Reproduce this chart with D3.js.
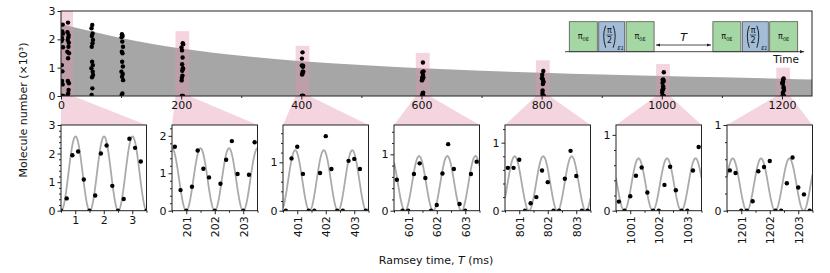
<!DOCTYPE html>
<html>
<head>
<meta charset="utf-8">
<title>Ramsey fringes vs time</title>
<script src="https://d3js.org/d3.v7.min.js"></script>
<style>
  body { margin: 0; background: #fff; }
  text { font-family: "DejaVu Sans", sans-serif; fill: #111; }
</style>
</head>
<body>
<svg id="chart"></svg>
<script>
// --- data ---
var groupBase = [0, 200, 400, 600, 800, 1000, 1200];
var panelYMax = [3, 2.29, 1.77, 1.52, 1.26, 1.13, 1.0];
var firstOffsets = [0.5, 0.7, 0.9, 1.1, 1.3, 1.5, 1.7, 1.9, 2.1, 2.3, 2.5, 2.7, 2.9, 3.1, 3.3, 3.5];
var offsets = [0.6, 0.8, 1.0, 1.2, 1.4, 1.6, 1.8, 2.0, 2.2, 2.4, 2.6, 2.8, 3.0, 3.2, 3.4];

var n0    = [0, 0.43, 1.94, 2.07, 1.09, 0, 0.53, 2.0, 2.28, 0.87, 0, 0.41, 2.52, 2.2, 1.72, 0];
var n200  = [1.71, 0.55, 0, 0.64, 1.61, 1.12, 0.89, 0, 0.72, 1.36, 1.86, 0.98, 0, 0.96, 1.83];
var n400  = [0, 1.08, 1.32, 0.76, 0, 0, 0.78, 1.54, 0.86, 0, 0, 1.03, 1.07, 0.86, 0];
var n600  = [0.55, 0, 0, 0.65, 0.84, 0.58, 0, 0.10, 0.66, 1.18, 0.74, 0.12, 0, 0.65, 0.87];
var n800  = [0.63, 0.63, 0.75, 0, 0.11, 0.20, 0.59, 0.42, 0, 0, 0.47, 0.88, 0.51, 0, 0];
var n1000 = [0.12, 0, 0.19, 0.46, 0.57, 0.24, 0, 0, 0.34, 0.58, 0.27, 0, 0, 0.53, 0.84];
var n1200 = [0.47, 0.44, 0, 0, 0.11, 0.46, 0.51, 0.58, 0, 0, 0.32, 0.62, 0.27, 0.19, 0];
var panelN = [n0, n200, n400, n600, n800, n1000, n1200];

// extra groups only shown in the overview panel
var extraBase = [10, 50, 100];
var n10  = [1.56, 2.25, 0.04, 1.98, 0.53, 2.59, 1.33, 0.09, 2.07, 1.74, 0.21, 2.15, 1.88, 0.45, 1.51];
var n50  = [0.98, 2.39, 0.04, 1.74, 2.12, 0.66, 1.21, 2.51, 0.27, 1.86, 2.21, 0.86, 1.09, 1.98, 0.74];
var n100 = [0.86, 2.07, 0.04, 1.56, 2.18, 0.68, 1.21, 1.92, 0.09, 1.51, 2.12, 0.78, 1.04, 1.74, 0.56];
var extraN = [n10, n50, n100];

// fitted fringe parameters (amplitude, time of a peak, period)
var fitAmp    = [2.6, 1.67, 1.25, 0.97, 0.80, 0.69, 0.61];
var fitPeak   = [1.01, 201.5, 401.93, 601.38, 800.84, 1001.29, 1200.7];
var fitPeriod = [1.0, 1.0, 1.0, 0.99, 1.0, 1.0, 0.995];

// decay envelope (grey band)
var envT = [0, 100, 200, 300, 400, 500, 600, 700, 800, 900, 1000, 1100, 1200, 1250];
var envN = [2.54, 2.05, 1.68, 1.42, 1.23, 1.09, 0.98, 0.89, 0.82, 0.76, 0.71, 0.66, 0.61, 0.58];

var topTicks = [0, 200, 400, 600, 800, 1000, 1200];
var topMinor = [100, 300, 500, 700, 900, 1100];

// --- layout ---
var W = 830, H = 273;
var svg = d3.select("#chart").attr("width", W).attr("height", H);
var pink = "rgb(228,150,175)";
var defs = svg.append("defs");

var x = d3.scaleLinear().domain([0, 1250]).range([61, 812]);
var y = d3.scaleLinear().domain([0, 3]).range([96, 11]);

var pTop = 125, pBot = 210.7, pW = 85.5;
function panelLeft(i) { return 61 + i * 111; }

defs.append("clipPath").attr("id", "clipTop")
  .append("rect").attr("x", 61).attr("y", 11).attr("width", 751).attr("height", 85);
defs.append("marker").attr("id", "arrE").attr("viewBox", "0 0 10 10").attr("refX", 10).attr("refY", 5)
  .attr("markerWidth", 5).attr("markerHeight", 5).attr("orient", "auto")
  .append("path").attr("d", "M0,1L10,5L0,9Z").attr("fill", "#222");
defs.append("marker").attr("id", "arrS").attr("viewBox", "0 0 10 10").attr("refX", 0).attr("refY", 5)
  .attr("markerWidth", 5).attr("markerHeight", 5).attr("orient", "auto")
  .append("path").attr("d", "M10,1L0,5L10,9Z").attr("fill", "#222");

function zoomLo(i) { return i == 0 ? 0 : groupBase[i] + 2 - 11.5; }
function zoomHi(i) { return i == 0 ? 20 : groupBase[i] + 2 + 11.5; }

// pink connectors
groupBase.forEach(function(b, i) {
  var px = panelLeft(i);
  svg.append("path")
    .attr("d", "M" + [x(zoomLo(i)), 96] + "L" + [x(zoomHi(i)), 96] + "L" + [px + pW, pTop] + "L" + [px, pTop] + "Z")
    .attr("fill", pink).attr("opacity", 0.4);
});

// overview panel
var overview = svg.append("g");
var env = envT.map(function(t, i) { return {t: t, n: envN[i]}; });
overview.append("path").datum(env)
  .attr("fill", "#a6a6a6")
  .attr("d", d3.area().x(d => x(d.t)).y0(y(0)).y1(d => y(d.n)).curve(d3.curveMonotoneX));

groupBase.forEach(function(b, i) {
  overview.append("rect")
    .attr("x", x(zoomLo(i))).attr("width", x(zoomHi(i)) - x(zoomLo(i)))
    .attr("y", y(panelYMax[i])).attr("height", y(0) - y(panelYMax[i]))
    .attr("fill", pink).attr("opacity", 0.4);
});

var allPts = [];
groupBase.forEach(function(b, i) {
  var offs = i == 0 ? firstOffsets : offsets;
  panelN[i].forEach(function(n, j) { allPts.push({t: b + offs[j], n: n}); });
});
extraBase.forEach(function(b, i) {
  extraN[i].forEach(function(n, j) { allPts.push({t: b + offsets[j], n: n}); });
});
overview.append("g").attr("clip-path", "url(#clipTop)")
  .selectAll("circle").data(allPts).enter().append("circle")
  .attr("cx", d => x(d.t)).attr("cy", d => y(d.n)).attr("r", 2.2).attr("fill", "#000");

// inset: pulse sequence sketch
var inset = svg.append("g");
var seq = [
  {kind: "pi", w: 28}, {kind: "half", w: 26}, {kind: "pi", w: 28}, {kind: "gap", w: 56},
  {kind: "pi", w: 28}, {kind: "half", w: 26}, {kind: "pi", w: 28}
];
var sx = 569.3, base = 51.7, bh = 30;
seq.forEach(function(s) {
  var cx = sx + s.w / 2;
  if (s.kind == "gap") {
    inset.append("line").attr("x1", sx + 0.5).attr("x2", sx + s.w - 0.5).attr("y1", 45).attr("y2", 45)
      .attr("stroke", "#222").attr("stroke-width", 0.8)
      .attr("marker-start", "url(#arrS)").attr("marker-end", "url(#arrE)");
    inset.append("text").attr("x", cx).attr("y", 41).attr("text-anchor", "middle")
      .style("font-size", "11px").style("font-style", "italic").text("T");
  } else {
    inset.append("rect").attr("x", sx).attr("y", base - bh).attr("width", s.w).attr("height", bh)
      .attr("fill", s.kind == "pi" ? "#a5d7a4" : "#a3bcd8").attr("stroke", "#555").attr("stroke-width", 0.8);
    if (s.kind == "pi") {
      var t = inset.append("text").attr("x", cx).attr("y", 39).attr("text-anchor", "middle").style("font-size", "8px");
      t.append("tspan").text("π");
      t.append("tspan").attr("dy", 1.5).style("font-size", "5px").text("0E");
    } else {
      // big parentheses drawn as arcs so they fit the box
      [[sx + 4.5, 1], [sx + 17, -1]].forEach(function(p) {
        inset.append("path")
          .attr("d", "M" + (p[0] + p[1] * 2.5) + "," + (base - bh + 4) + "Q" + (p[0] - p[1] * 1.5) + "," + (base - bh / 2 - 1) + " " + (p[0] + p[1] * 2.5) + "," + (base - 4))
          .attr("fill", "none").attr("stroke", "#111").attr("stroke-width", 0.9);
      });
      inset.append("text").attr("x", sx + 10.8).attr("y", 32.5).attr("text-anchor", "middle").style("font-size", "8px").text("π");
      inset.append("line").attr("x1", sx + 7.5).attr("x2", sx + 14).attr("y1", 35).attr("y2", 35)
        .attr("stroke", "#111").attr("stroke-width", 0.6);
      inset.append("text").attr("x", sx + 10.8).attr("y", 43).attr("text-anchor", "middle").style("font-size", "8px").text("2");
      inset.append("text").attr("x", sx + 22).attr("y", 49.5).attr("text-anchor", "middle")
        .style("font-size", "5px").style("font-style", "italic").text("E1");
    }
  }
  sx += s.w + 1.4;
});
inset.append("line").attr("x1", 565).attr("x2", 804).attr("y1", base).attr("y2", base)
  .attr("stroke", "#333").attr("stroke-width", 0.9).attr("marker-end", "url(#arrE)");
inset.append("text").attr("x", 786).attr("y", 63).attr("text-anchor", "middle").style("font-size", "10.5px").text("Time");

// overview axes
overview.append("rect").attr("x", 61).attr("y", 11).attr("width", 751).attr("height", 85)
  .attr("fill", "none").attr("stroke", "#222").attr("stroke-width", 1);
overview.append("g").attr("transform", "translate(0,96)")
  .call(d3.axisBottom(x).tickValues(topTicks).tickSize(3.5).tickPadding(2).tickFormat(d3.format("d")));
overview.append("g").attr("transform", "translate(0,96)")
  .call(d3.axisBottom(x).tickValues(topMinor).tickSize(2).tickFormat(""));
overview.append("g").attr("transform", "translate(61,0)")
  .call(d3.axisLeft(y).tickValues([0, 1, 2, 3]).tickSize(3.5).tickPadding(2).tickFormat(d3.format("d")));
overview.selectAll(".domain").remove();

// zoomed panels
groupBase.forEach(function(b, i) {
  var px = panelLeft(i);
  var x0 = b + 0.5;
  var xs = d3.scaleLinear().domain([x0, x0 + 3]).range([px, px + pW]);
  var ys = d3.scaleLinear().domain([0, panelYMax[i]]).range([pBot, pTop]);
  var g = svg.append("g");
  var cid = "clipP" + i;
  defs.append("clipPath").attr("id", cid)
    .append("rect").attr("x", px).attr("y", pTop).attr("width", pW).attr("height", pBot - pTop);

  var samples = d3.range(0, 301).map(k => x0 + k * 0.01);
  var fit = samples.map(t => ({t: t, n: fitAmp[i] * (1 + Math.cos(2 * Math.PI * (t - fitPeak[i]) / fitPeriod[i])) / 2}));
  var pg = g.append("g").attr("clip-path", "url(#" + cid + ")");
  pg.append("path").datum(fit).attr("fill", "none").attr("stroke", "#aaaaaa").attr("stroke-width", 1.8)
    .attr("d", d3.line().x(d => xs(d.t)).y(d => ys(d.n)));
  var offs = i == 0 ? firstOffsets : offsets;
  pg.selectAll("circle").data(panelN[i]).enter().append("circle")
    .attr("cx", (d, j) => xs(b + offs[j])).attr("cy", d => ys(d)).attr("r", 2.2).attr("fill", "#000");

  g.append("rect").attr("x", px).attr("y", pTop).attr("width", pW).attr("height", pBot - pTop)
    .attr("fill", "none").attr("stroke", "#222").attr("stroke-width", 1);

  var major = [b + 1, b + 2, b + 3];
  var minorX = [b + 0.5, b + 1.5, b + 2.5, b + 3.5];
  var yMajor = d3.range(0, Math.floor(panelYMax[i] + 1e-9) + 1);
  var yMinor = d3.range(0.2, panelYMax[i] + 1e-9, 0.2).filter(v => Math.abs(v - Math.round(v)) > 0.01);

  var gx = g.append("g").attr("transform", "translate(0," + pBot + ")")
    .call(d3.axisBottom(xs).tickValues(major).tickSize(3.5).tickPadding(2).tickFormat(d3.format("d")));
  g.append("g").attr("transform", "translate(0," + pBot + ")")
    .call(d3.axisBottom(xs).tickValues(minorX).tickSize(2).tickFormat(""));
  if (i > 0) {
    gx.selectAll(".tick text")
      .attr("transform", "rotate(-90)").attr("text-anchor", "end")
      .attr("x", -5.5).attr("y", 0).attr("dy", "0.35em");
  }
  g.append("g").attr("transform", "translate(" + px + ",0)")
    .call(d3.axisLeft(ys).tickValues(yMajor).tickSize(3.5).tickPadding(2).tickFormat(d3.format("d")));
  g.append("g").attr("transform", "translate(" + px + ",0)")
    .call(d3.axisLeft(ys).tickValues(yMinor).tickSize(2).tickFormat(""));
  g.selectAll(".domain").remove();
});

svg.selectAll(".tick text").style("font-size", "11px").style("font-family", "DejaVu Sans, sans-serif").attr("fill", "#111");
svg.selectAll(".tick line").attr("stroke", "#222");

// axis titles
svg.append("text").attr("transform", "translate(27,110) rotate(-90)").attr("text-anchor", "middle")
  .style("font-size", "11px").text("Molecule number (×10³)");
var xl = svg.append("text").attr("x", 436).attr("y", 264).attr("text-anchor", "middle").style("font-size", "11px");
xl.append("tspan").text("Ramsey time, ");
xl.append("tspan").style("font-style", "italic").text("T");
xl.append("tspan").text(" (ms)");
</script>
</body>
</html>
